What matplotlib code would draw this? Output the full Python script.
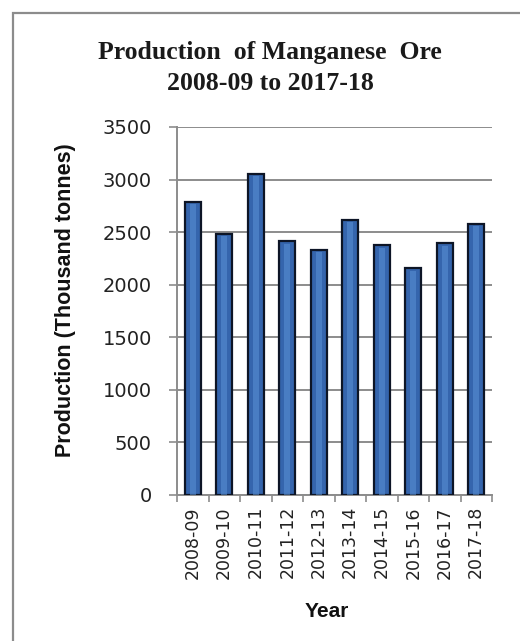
import numpy as np
import matplotlib.pyplot as plt
from matplotlib.patches import Rectangle

# dados
anos = ['2008-09', '2009-10', '2010-11', '2011-12', '2012-13',
        '2013-14', '2014-15', '2015-16', '2016-17', '2017-18']
producao = [2788, 2486, 3057, 2413, 2333, 2619, 2375, 2159, 2397, 2581]
yticks = [0, 500, 1000, 1500, 2000, 2500, 3000, 3500]

fig = plt.figure(figsize=(5.2, 6.41), dpi=100)
fig.patch.set_facecolor('white')

# moldura do grafico
fig.patches.append(Rectangle((13/520, -0.05), 1.2, 1 - 13/641 + 0.05,
                             transform=fig.transFigure, fill=False,
                             edgecolor='#8c8c8c', linewidth=1.6))

ax = fig.add_axes([177/520, 1 - 495/641, 315/520, 368/641])

x = np.arange(len(anos))
ax.bar(x, producao, width=0.5, color='#3565ad', edgecolor='#0d1526',
       linewidth=1.6, zorder=3)
# brilho no meio da barra
ax.bar(x, np.array(producao) - 25, width=0.2, color='#5a92d6', alpha=0.55,
       linewidth=0, zorder=4)

ax.set_xlim(-0.5, len(anos) - 0.5)
ax.set_ylim(0, 3500)
ax.set_yticks(yticks)
ax.set_yticklabels([str(v) for v in yticks], fontsize=14, color='#222222')
ax.set_xticks(x)
ax.set_xticklabels(anos, rotation=90, fontsize=12.5, color='#222222')
ax.set_xticks(np.arange(len(anos) + 1) - 0.5, minor=True)

ax.tick_params(axis='y', length=6, width=1.2, color='#8c8c8c', pad=12)
ax.tick_params(axis='x', which='major', length=0, pad=8)
ax.tick_params(axis='x', which='minor', length=5, width=1.2, color='#8c8c8c')

ax.grid(axis='y', color='#8c8c8c', linewidth=1.4, zorder=0)
for s in ['top', 'right']:
    ax.spines[s].set_visible(False)
for s in ['left', 'bottom']:
    ax.spines[s].set_color('#8c8c8c')
    ax.spines[s].set_linewidth(1.4)

ax.set_ylabel('Production (Thousand tonnes)', fontsize=15.5, fontweight='bold',
              family='Liberation Sans', color='#111111')
ax.yaxis.set_label_coords(-0.32, 0.53)
ax.set_xlabel('Year', fontsize=15, fontweight='bold', family='Liberation Sans',
              color='#111111')
ax.xaxis.set_label_coords(0.476, -0.29)

fig.text(270/520, 1 - 53/641, 'Production  of Manganese  Ore', ha='center',
         va='center', fontsize=18.5, fontweight='bold', family='Liberation Serif',
         color='#1a1a1a')
fig.text(270/520, 1 - 83/641, '2008-09 to 2017-18', ha='center', va='center',
         fontsize=18.5, fontweight='bold', family='Liberation Serif',
         color='#1a1a1a')

fig.savefig('out.png', dpi=100)
